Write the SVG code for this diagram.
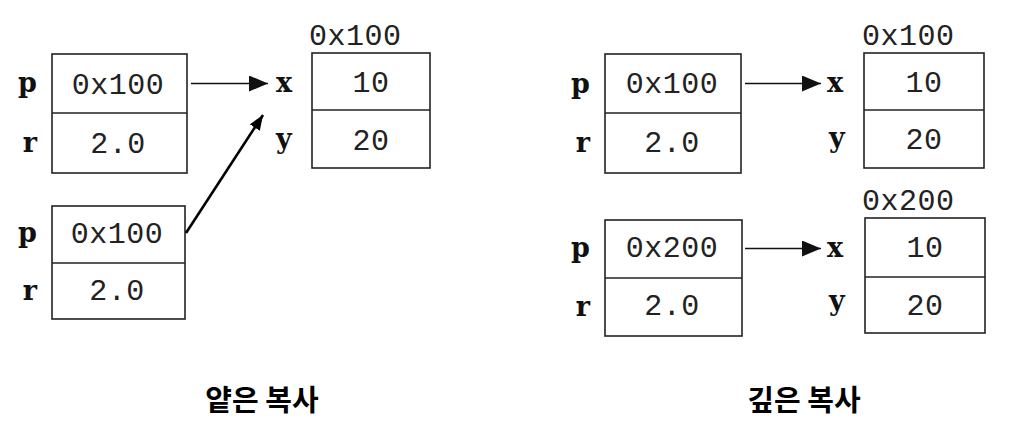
<svg xmlns="http://www.w3.org/2000/svg" width="1018" height="446" viewBox="0 0 1018 446">
<style>
.box{fill:#fff;stroke:#222;stroke-width:1.6}
.div{stroke:#222;stroke-width:1.6}
.val{font-family:"Liberation Mono",monospace;font-size:30px;letter-spacing:0.5px;fill:#222;text-anchor:middle}
.addr{font-family:"Liberation Mono",monospace;font-size:30px;letter-spacing:0.5px;fill:#222}
.lbl{font-family:"DejaVu Serif",serif;font-weight:bold;font-size:27px;fill:#111}
.end{text-anchor:end}
.cap{font-family:"Noto Sans CJK KR","Noto Sans",sans-serif;font-weight:bold;font-size:29px;fill:#000;text-anchor:middle}
.arr{stroke:#111;stroke-width:1.6;fill:none}
.arr2{stroke:#000;stroke-width:2.6;fill:none}
</style>
<defs>
<marker id="ah" markerUnits="userSpaceOnUse" markerWidth="22" markerHeight="18" refX="19" refY="8" orient="auto">
<path d="M0,0 L19,8 L0,16 z" fill="#111"/>
</marker>
<marker id="ah2" markerUnits="userSpaceOnUse" markerWidth="18" markerHeight="14" refX="15" refY="6" orient="auto">
<path d="M0,0 L15,6 L0,12 z" fill="#000"/>
</marker>
</defs>

<g id="shallow-src1">
<rect class="box" x="52" y="54" width="135" height="119"/>
<line class="div" x1="52" y1="113" x2="187" y2="113"/>
<text class="lbl end" x="37" y="92">p</text>
<text class="lbl end" x="37" y="152">r</text>
<text class="val" x="118" y="94">0x100</text>
<text class="val" x="118" y="153">2.0</text>
</g>

<g id="shallow-obj">
<text class="addr" x="309" y="45">0x100</text>
<rect class="box" x="312" y="53" width="118" height="115"/>
<line class="div" x1="312" y1="110" x2="430" y2="110"/>
<text class="lbl" x="276" y="92">x</text>
<text class="lbl" x="276" y="148">y</text>
<text class="val" x="371" y="92">10</text>
<text class="val" x="371" y="150">20</text>
</g>

<g id="shallow-src2">
<rect class="box" x="52" y="206" width="133" height="113"/>
<line class="div" x1="52" y1="263" x2="185" y2="263"/>
<text class="lbl end" x="37" y="242">p</text>
<text class="lbl end" x="37" y="300">r</text>
<text class="val" x="117" y="243">0x100</text>
<text class="val" x="117" y="300">2.0</text>
</g>

<g id="deep-src1">
<rect class="box" x="605" y="54" width="136" height="119"/>
<line class="div" x1="605" y1="113" x2="741" y2="113"/>
<text class="lbl end" x="590" y="93">p</text>
<text class="lbl end" x="590" y="152">r</text>
<text class="val" x="672" y="93">0x100</text>
<text class="val" x="672" y="152">2.0</text>
</g>

<g id="deep-obj1">
<text class="addr" x="862" y="45">0x100</text>
<rect class="box" x="864" y="53" width="120" height="115"/>
<line class="div" x1="864" y1="110" x2="984" y2="110"/>
<text class="lbl" x="827" y="92">x</text>
<text class="lbl" x="829" y="147">y</text>
<text class="val" x="924" y="92">10</text>
<text class="val" x="924" y="149">20</text>
</g>

<g id="deep-src2">
<rect class="box" x="605" y="220" width="137" height="116"/>
<line class="div" x1="605" y1="278" x2="742" y2="278"/>
<text class="lbl end" x="590" y="257">p</text>
<text class="lbl end" x="590" y="316">r</text>
<text class="val" x="672" y="257">0x200</text>
<text class="val" x="672" y="315">2.0</text>
</g>

<g id="deep-obj2">
<text class="addr" x="862" y="210">0x200</text>
<rect class="box" x="865" y="218" width="120" height="115"/>
<line class="div" x1="865" y1="277" x2="985" y2="277"/>
<text class="lbl" x="827" y="257">x</text>
<text class="lbl" x="829" y="310">y</text>
<text class="val" x="925" y="257">10</text>
<text class="val" x="925" y="315">20</text>
</g>

<g id="connectors">
<line class="arr" x1="191" y1="83.5" x2="268" y2="83.5" marker-end="url(#ah)"/>
<line class="arr2" x1="186" y1="233" x2="263" y2="115" marker-end="url(#ah2)"/>
<line class="arr" x1="745" y1="83.5" x2="821" y2="83.5" marker-end="url(#ah)"/>
<line class="arr" x1="745" y1="248.5" x2="821" y2="248.5" marker-end="url(#ah)"/>
</g>

<g id="captions">
<text class="cap" x="262" y="411">얕은 복사</text>
<text class="cap" x="804" y="411">깊은 복사</text>
</g>
</svg>
